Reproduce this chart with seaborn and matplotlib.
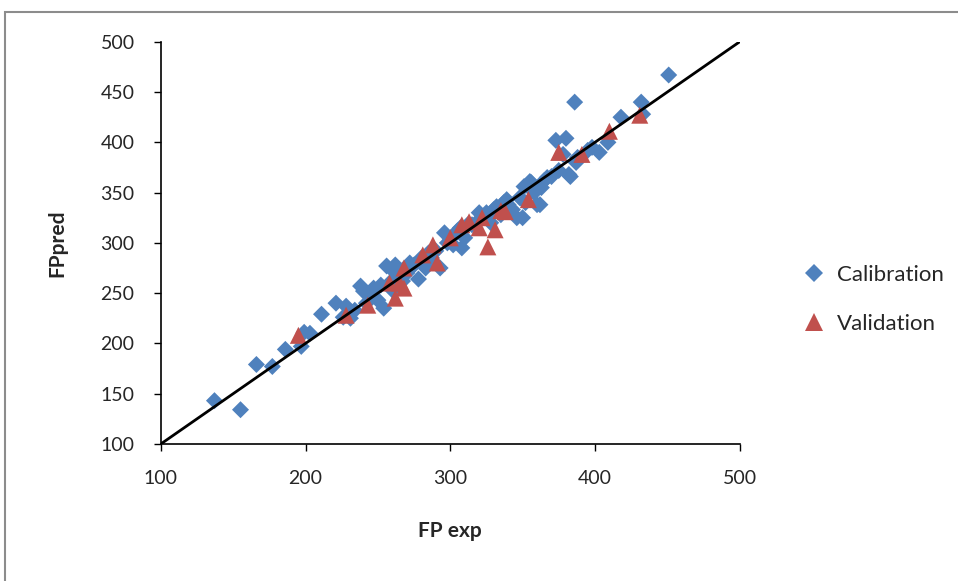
import matplotlib
matplotlib.use('Agg')
import matplotlib.pyplot as plt
import pandas as pd
import seaborn as sns
from matplotlib.patches import Rectangle

# Calibration set (FP exp, FP pred)
cal_exp = [137, 155, 166, 177, 186, 197, 199, 203, 211, 221, 226, 228, 231, 234,
           238, 240, 242, 245, 247, 250, 252, 254, 256, 258, 260, 262, 262, 265,
           267, 270, 272, 275, 278, 280, 283, 285, 287, 290, 293, 296, 298, 300,
           302, 305, 307, 308, 310, 312, 315, 318, 320, 322, 325, 328, 330, 332,
           335, 337, 339, 340, 343, 346, 348, 350, 351, 352, 355, 356, 358, 360,
           362, 363, 365, 367, 370, 373, 375, 378, 380, 382, 383, 386, 387, 388,
           395, 398, 403, 409, 418, 432, 433, 451]
cal_pred = [143, 134, 179, 177, 194, 197, 211, 210, 229, 240, 226, 237, 225, 233,
            257, 252, 240, 248, 255, 243, 258, 235, 277, 260, 253, 270, 278, 268,
            262, 270, 280, 278, 264, 285, 275, 290, 285, 292, 275, 310, 300, 304,
            298, 312, 315, 295, 305, 318, 318, 320, 330, 325, 330, 320, 333, 336,
            328, 340, 343, 338, 333, 325, 345, 325, 356, 340, 361, 360, 350, 338,
            338, 355, 362, 365, 366, 402, 372, 388, 404, 368, 366, 440, 380, 385,
            392, 395, 390, 400, 425, 440, 428, 467]

# Validation set
val_exp = [195, 228, 243, 258, 262, 265, 268, 268, 281, 288, 291, 300, 308, 313,
           320, 322, 326, 331, 335, 338, 354, 375, 391, 410, 431]
val_pred = [208, 228, 238, 260, 245, 260, 255, 275, 288, 298, 280, 305, 318, 321,
            315, 325, 296, 313, 332, 331, 343, 390, 388, 411, 427]

ideal = [100, 500]

df = pd.DataFrame({
    'FP exp': cal_exp + val_exp,
    'FP pred': cal_pred + val_pred,
    'Set': ['Calibration'] * len(cal_exp) + ['Validation'] * len(val_exp),
})

sns.set_style('white')
plt.rcParams['font.family'] = ['Lato', 'DejaVu Sans']

fig = plt.figure(figsize=(9.58, 5.81), dpi=100)
ax = fig.add_axes([0.168, 0.236, 0.604, 0.692])

ax.plot(ideal, ideal, color='black', lw=2, zorder=3)
sns.scatterplot(data=df, x='FP exp', y='FP pred', hue='Set', style='Set', size='Set',
                palette={'Calibration': '#4F81BD', 'Validation': '#C0504D'},
                markers={'Calibration': 'D', 'Validation': '^'},
                sizes={'Calibration': 75, 'Validation': 150},
                linewidth=0, ax=ax, zorder=2)

ax.set_xlim(100, 500)
ax.set_ylim(100, 500)
ax.set_xticks(range(100, 501, 100))
ax.set_yticks(range(100, 501, 50))
ax.tick_params(axis='both', labelsize=14, direction='out', length=5, width=1,
               color='black', left=True, bottom=True)
ax.tick_params(axis='x', pad=14)
ax.tick_params(axis='y', pad=14)
for side in ['top', 'right']:
    ax.spines[side].set_visible(False)
for side in ['left', 'bottom']:
    ax.spines[side].set_color('black')
    ax.spines[side].set_linewidth(1.2)

ax.set_xlabel('FP exp', fontsize=15, fontweight='bold', labelpad=24)
ax.set_ylabel('FPpred', fontsize=15, fontweight='bold', labelpad=24)

leg = ax.legend(loc='center left', bbox_to_anchor=(1.055, 0.36), frameon=False,
                fontsize=16, handletextpad=0.05, labelspacing=1.3)

fig.patches.append(Rectangle((0.005, -0.05), 1.1, 1.03, transform=fig.transFigure,
                             fill=False, edgecolor='#8c8c8c', lw=1.5))

fig.savefig('out.png', dpi=100)
